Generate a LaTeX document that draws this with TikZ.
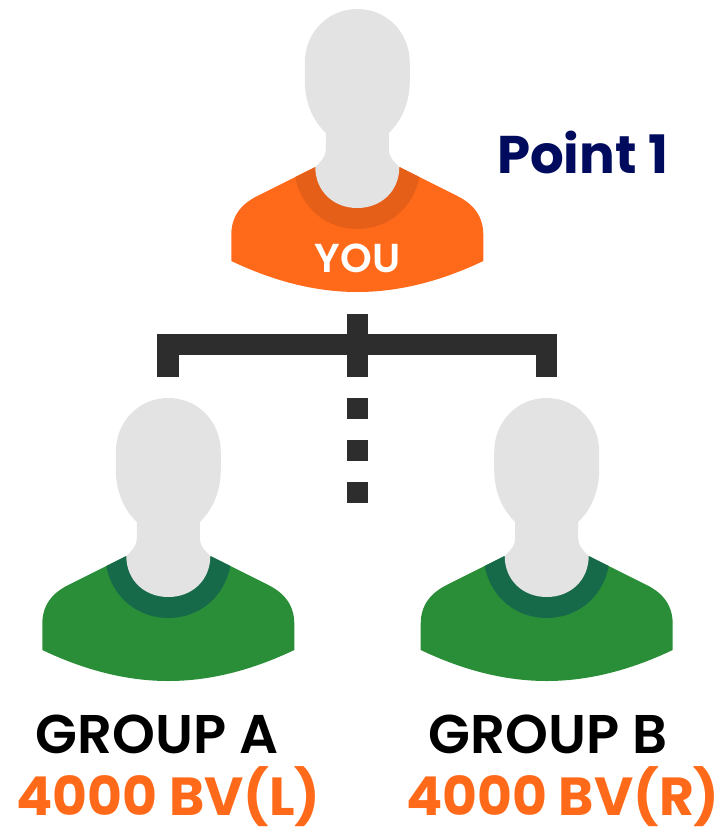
\documentclass[tikz,border=0pt]{standalone}
\usepackage{fontspec}
\setmainfont{Poppins}
\newfontfamily\popsemi{Poppins SemiBold}
\definecolor{headgray}{HTML}{E3E3E3}
\definecolor{orangeshirt}{HTML}{FF6A1A}
\definecolor{orangecollar}{HTML}{E55F18}
\definecolor{greenshirt}{HTML}{298E37}
\definecolor{greencollar}{HTML}{166A4A}
\definecolor{barcolor}{HTML}{2D2D2D}
\definecolor{navytext}{HTML}{000B5E}
\tikzset{
  person/.pic={
    \fill[fill=\shirtcol] (-42,158) -- (-100,187) .. controls (-116,195) and (-126,207) .. (-126,226)
      -- (-126,252) .. controls (-84,272) and (-42,283) .. (0,283)
      .. controls (42,283) and (84,272) .. (126,252) -- (126,226)
      .. controls (126,207) and (116,195) .. (100,187) -- (42,158) -- cycle;
    \fill[fill=\collarcol] (-62,168) .. controls (-56,200) and (-30,220) .. (0,220)
      .. controls (30,220) and (56,200) .. (62,168) -- (42,158) -- (-42,158) -- cycle;
    \fill[fill=headgray] (0,0) .. controls (-30,0) and (-52.5,24) .. (-52.5,54) -- (-52.5,71)
      .. controls (-52.5,93) and (-45,111) .. (-31.5,124) -- (-31.5,141)
      .. controls (-31.5,148) and (-37,153) .. (-42,158)
      .. controls (-42,182) and (-24,199) .. (0,199)
      .. controls (24,199) and (42,182) .. (42,158)
      .. controls (37,153) and (31.5,148) .. (31.5,141) -- (31.5,124)
      .. controls (45,111) and (52.5,93) .. (52.5,71) -- (52.5,54)
      .. controls (52.5,24) and (30,0) .. (0,0) -- cycle;
  },
  barline/.style={draw=barcolor,line width=21.3pt,miter limit=10},
  dotbox/.style={fill=barcolor,minimum width=21.3pt,minimum height=21pt,inner sep=0pt},
  lab/.style={inner sep=0pt,anchor=base},
  grouplab/.style={lab,font=\fontsize{54.5}{54.5}\popsemi,text=black},
  bvlab/.style={lab,font=\fontsize{53.6}{53.6}\bfseries,text=orangeshirt},
}
\begin{document}
\begin{tikzpicture}[x=1pt,y=-1pt]
\useasboundingbox (0,0) rectangle (724,828);
\def\shirtcol{orangeshirt}\def\collarcol{orangecollar}
\pic at (357.3,9) {person};
\def\shirtcol{greenshirt}\def\collarcol{greencollar}
\pic at (168.3,398) {person};
\pic at (546.7,398) {person};
\coordinate (ctop) at (357.3,313.5);
\coordinate (cbot) at (357.3,376.7);
\coordinate (lleg) at (168,376.7);
\coordinate (rleg) at (546.7,376.7);
\coordinate (lcorner) at (168,344.7);
\coordinate (rcorner) at (546.7,344.7);
\draw[barline] (lleg) -- (lcorner) -- (rcorner) -- (rleg);
\draw[barline] (ctop) -- (cbot);
\node[dotbox] (d1) at (357.3,408) {};
\node[dotbox] (d2) at (357.3,450.5) {};
\node[dotbox] (d3) at (357.3,492.5) {};
\node[lab,font=\fontsize{40.4}{40.4}\popsemi,text=white] (you) at (357.5,272) {YOU};
\node[lab,font=\fontsize{53}{53}\bfseries,text=navytext] (pt) at (582.5,173) {Point 1};
\node[grouplab] (ga) at (157,753) {GROUP A};
\node[grouplab] (gb) at (548,753) {GROUP B};
\node[bvlab] (ba) at (168.5,815.7) {4000 BV(L)};
\node[bvlab] (bb) at (563,815.7) {4000 BV(R)};
\end{tikzpicture}
\end{document}
